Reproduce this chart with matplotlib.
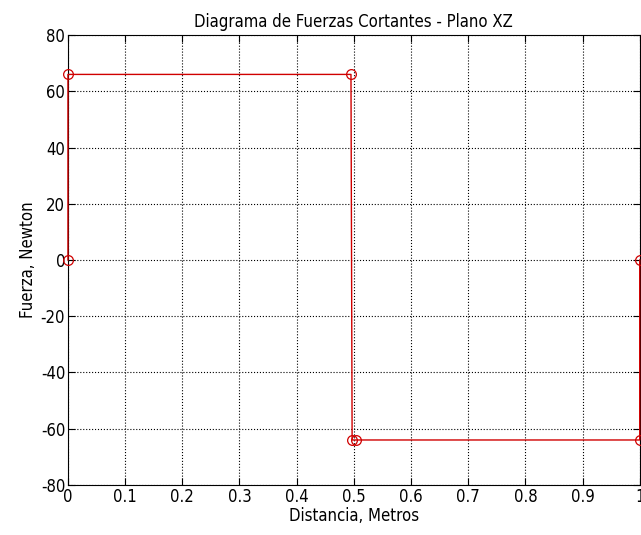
import matplotlib
matplotlib.use('Agg')
import matplotlib.pyplot as plt
import numpy as np

# shear force diagram points (x in m, V in N)
dist = [0, 0, 0.495, 0.497, 0.503, 1.0, 1.0]
force = [0, 66, 66, -64, -64, -64, 0]

xticks = [0, 0.1, 0.2, 0.3, 0.4, 0.5, 0.6, 0.7, 0.8, 0.9, 1]
xticklabels = ['0', '0.1', '0.2', '0.3', '0.4', '0.5', '0.6', '0.7', '0.8', '0.9', '1']
yticks = [-80, -60, -40, -20, 0, 20, 40, 60, 80]

plt.rcParams['font.family'] = ['DejaVu Sans']
plt.rcParams['font.stretch'] = 'condensed'
plt.rcParams['font.size'] = 12
plt.rcParams['axes.unicode_minus'] = False

fig = plt.figure(figsize=(6.41, 5.35), dpi=100)
ax = fig.add_axes([0.106, 0.0935, 0.892, 0.841])

ax.plot(dist, force, color='#d00000', linewidth=1.0, marker='o', markersize=7,
        markerfacecolor='none', markeredgecolor='#d00000', markeredgewidth=0.9,
        clip_on=False, zorder=3)

ax.set_xlim(0, 1)
ax.set_ylim(-80, 80)
ax.set_xticks(xticks)
ax.set_xticklabels(xticklabels)
ax.set_yticks(yticks)
ax.grid(True, linestyle=':', color='black', linewidth=0.8)
ax.tick_params(direction='in', top=True, right=True, length=5, width=0.8, pad=2,
               labelsize=12)
for s in ax.spines.values():
    s.set_linewidth(0.8)

ax.set_title('Diagrama de Fuerzas Cortantes - Plano XZ', fontsize=12, pad=6)
ax.set_xlabel('Distancia, Metros', labelpad=1)
ax.set_ylabel('Fuerza, Newton', labelpad=3)

fig.savefig('out.png', dpi=100)
